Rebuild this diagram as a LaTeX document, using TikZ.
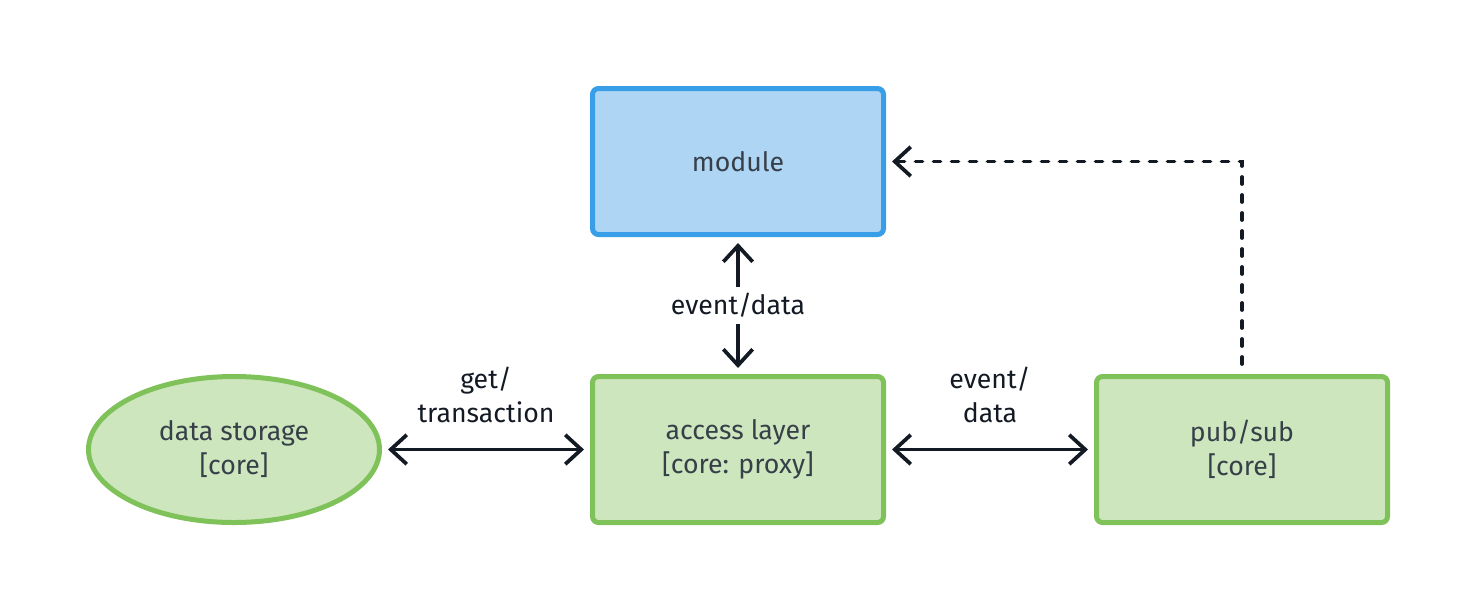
\documentclass[tikz,border=0pt]{standalone}
\usepackage{fontspec}
\setmainfont{Fira Sans}
\usetikzlibrary{arrows.meta,shapes.geometric}
\definecolor{gfill}{HTML}{CDE6BE}
\definecolor{gline}{HTML}{80C25A}
\definecolor{bfill}{HTML}{AED5F4}
\definecolor{bline}{HTML}{399EE8}
\definecolor{ntext}{HTML}{373F48}
\definecolor{ltext}{HTML}{141A24}
\tikzset{
  box/.style={rectangle, rounded corners=4.5pt, line width=3.75pt, minimum width=218.25pt, minimum height=109.5pt, text=ntext, align=center, font=\fontsize{20}{25.5}\selectfont},
  greenbox/.style={box, draw=gline, fill=gfill},
  bluebox/.style={box, draw=bline, fill=bfill},
  oval/.style={ellipse, line width=3.75pt, draw=gline, fill=gfill, minimum width=218.25pt, minimum height=109.5pt, inner sep=0pt, text=ntext, align=center, font=\fontsize{20}{25.5}\selectfont},
  conn/.style={line width=2.8pt, draw=ltext, line cap=round, {Straight Barb[length=12pt,width=22pt]}-{Straight Barb[length=12pt,width=22pt]}, shorten <=4.5pt, shorten >=4.5pt},
  dashconn/.style={line width=2.8pt, draw=ltext, line cap=round, dash pattern=on 5.25pt off 8.25pt, -{Straight Barb[length=12pt,width=22pt]}},
  lbl/.style={text=ltext, align=center, font=\fontsize{20}{25.5}\selectfont},
}
\begin{document}
\begin{tikzpicture}[x=0.75pt,y=-0.75pt]
\useasboundingbox (0,0) rectangle (1476,612);
\node[bluebox] (module) at (738,161.5) {module};
\node[greenbox] (access) at (738,449.5) {access layer\\{}[core: proxy]};
\node[greenbox] (pubsub) at (1242,449.5) {pub/sub\\{}[core]};
\node[oval] (storage) at (234,449.5) {data storage\\{}[core]};
\draw[conn] (module.south) -- node[lbl, midway, fill=white, inner ysep=5pt] {event/data} (access.north);
\draw[conn] (storage.east) -- node[lbl, midway, above=15pt] {get/\\transaction} (access.west);
\draw[conn] (access.east) -- node[lbl, midway, above=15pt] {event/\\data} (pubsub.west);
\draw[dashconn, shorten <=7.5pt, shorten >=4.5pt] (pubsub.north) |- (module.east);
\end{tikzpicture}
\end{document}
